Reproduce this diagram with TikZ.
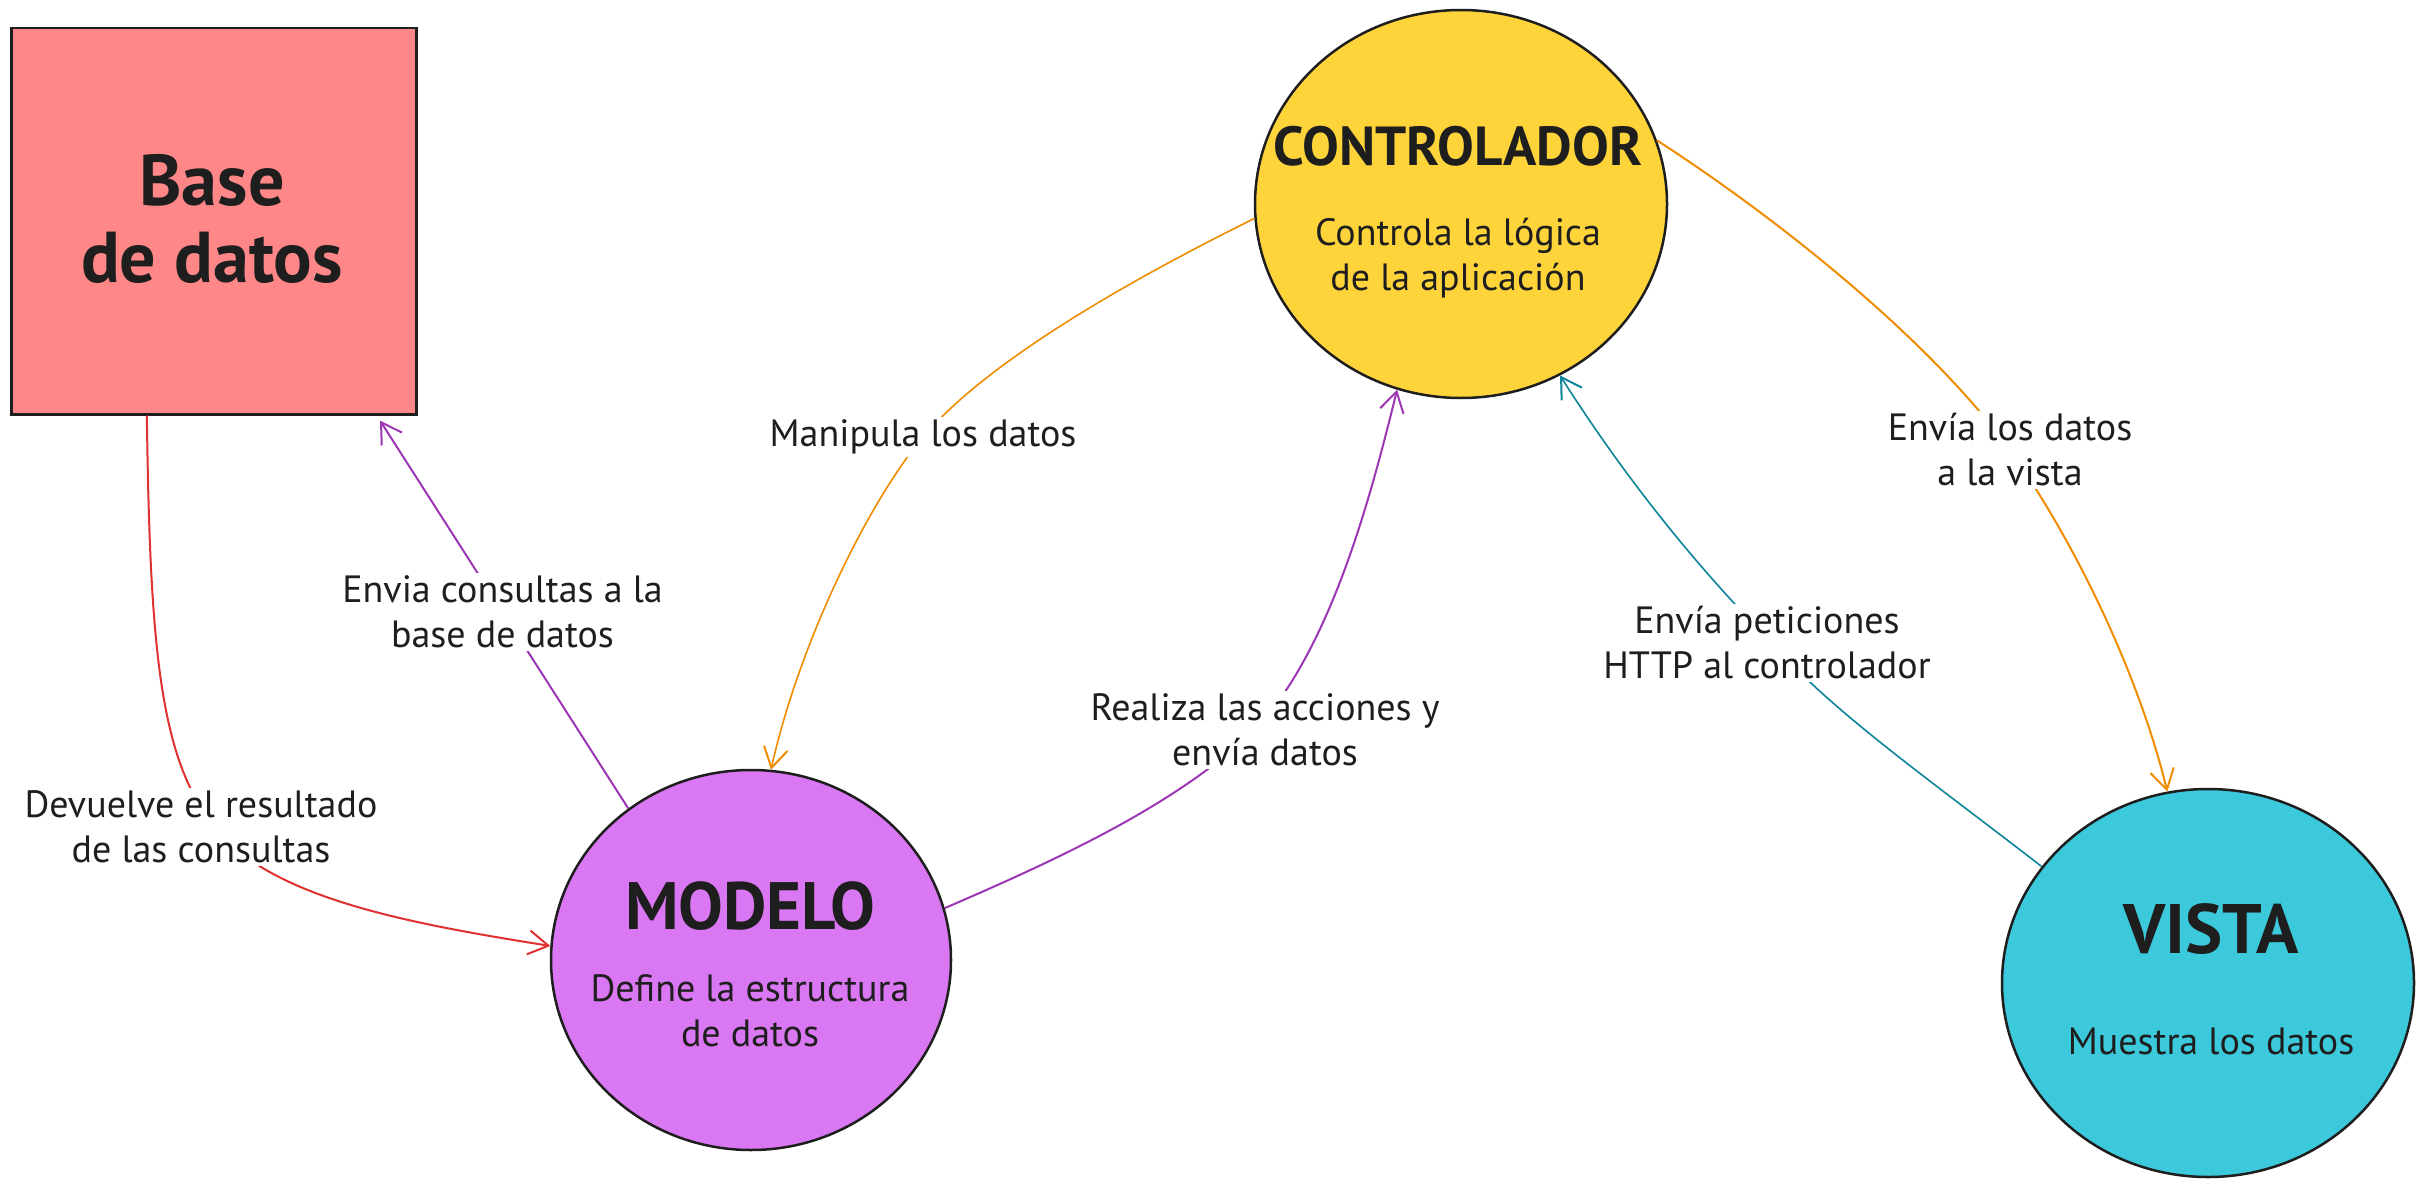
\documentclass[tikz,border=0pt]{standalone}
\usepackage{fontspec}
\setmainfont{PT Sans}
\usetikzlibrary{shapes.geometric,arrows.meta}
\definecolor{ink}{HTML}{1E1E1E}
\definecolor{dbfill}{HTML}{FF8787}
\definecolor{ctrlfill}{HTML}{FFD43B}
\definecolor{modfill}{HTML}{DA77F2}
\definecolor{visfill}{HTML}{3BC9DB}
\definecolor{cred}{HTML}{E03131}
\definecolor{corange}{HTML}{F08C00}
\definecolor{cpurple}{HTML}{9C36B5}
\definecolor{cteal}{HTML}{0C8599}
\begin{document}
\begin{tikzpicture}[x=1pt,y=-1pt,
  bubble/.style={ellipse, draw=ink, line width=2.5pt, inner sep=0pt},
  conn/.style={line width=2pt, -{Straight Barb[length=20pt,width=24pt,line width=2pt]}},
  lbl/.style={fill=white, inner sep=3pt, align=center, text=ink, font=\fontsize{38}{45}\selectfont},
  sub/.style={align=center, text=ink, inner sep=0pt, font=\fontsize{38}{45}\selectfont},
  ttl/.style={align=center, text=ink, inner sep=0pt, font=\bfseries\fontsize{#1}{77}\selectfont}]
\useasboundingbox[fill=white] (0,0) rectangle (2424,1188);
% shapes
\node[draw=ink, line width=2.5pt, fill=dbfill, minimum width=405pt, minimum height=386pt, inner sep=0pt, anchor=north west] (base) at (10,27) {};
\node[bubble, fill=ctrlfill, minimum width=412pt, minimum height=388pt] (ctrl) at (1461,204) {};
\node[bubble, fill=modfill, minimum width=400pt, minimum height=380pt] (modelo) at (751,960) {};
\node[bubble, fill=visfill, minimum width=412pt, minimum height=388pt] (vista) at (2208,983) {};
% texts
\node[ttl=72] (basetxt) at (212,219) {Base\\de datos};
\node[ttl=55] (ctrltxt) at (1458,146) {CONTROLADOR};
\node[sub] (ctrlsub) at (1458,258) {Controla la lógica\\de la aplicación};
\node[ttl=67] (modtxt) at (750,906) {MODELO};
\node[sub] (modsub) at (750,1011) {Define la estructura\\de datos};
\node[ttl=70] (vistxt) at (2211,929) {VISTA};
\node[sub] (vissub) at (2211,1041) {Muestra los datos};
% connectors
\draw[conn, cred] (base.251.5) .. controls (150,650) and (160,760) .. (215,827)
  node[lbl, xshift=-14pt] (l1) {Devuelve el resultado\\de las consultas}
  .. controls (270,900) and (420,925) .. (modelo.176);
\draw[conn, cpurple, shorten >=6pt] (modelo.129) -- node[lbl] (l2) {Envia consultas a la\\base de datos} (base.-50);
\draw[conn, corange, line width=1.6pt] (ctrl.184) .. controls (1100,295) and (980,370) .. (923,437)
  node[lbl] (l3) {Manipula los datos}
  .. controls (870,500) and (800,640) .. (modelo.84);
\draw[conn, cpurple] (modelo.15) .. controls (1080,850) and (1180,800) .. (1255,730)
  node[lbl, xshift=10pt] (l4) {Realiza las acciones y\\envía datos}
  .. controls (1330,650) and (1370,500) .. (ctrl.251);
\draw[conn, cteal, line width=1.6pt] (vista.145) .. controls (1930,780) and (1830,710) .. (1772,643)
  node[lbl, xshift=-5pt] (l5) {Envía peticiones\\HTTP al controlador}
  .. controls (1690,560) and (1620,470) .. (ctrl.-60);
\draw[conn, corange] (ctrl.18) .. controls (1780,220) and (1930,340) .. (2010,450)
  node[lbl] (l6) {Envía los datos\\a la vista}
  .. controls (2080,550) and (2140,680) .. (vista.102);
\end{tikzpicture}
\end{document}
